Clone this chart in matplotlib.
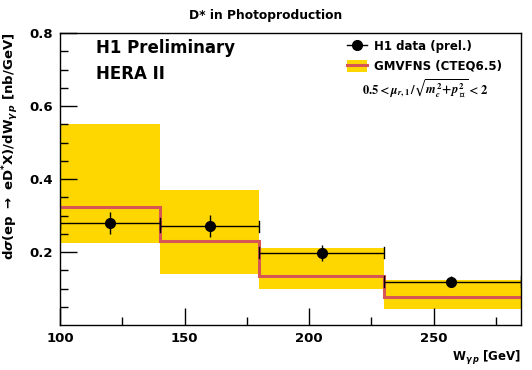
import numpy as np
import matplotlib
matplotlib.use('Agg')
import matplotlib.pyplot as plt
from matplotlib.lines import Line2D
from matplotlib.patches import Patch

# bins in W_gamma_p [GeV]
bin_edges = [100, 140, 180, 230, 285]
data_x = [120, 160, 205, 257]
data_y = [0.279, 0.271, 0.198, 0.119]
data_err = [0.030, 0.030, 0.022, 0.014]
theo_y = [0.3225, 0.231, 0.133, 0.076]
theo_lo = [0.224, 0.141, 0.098, 0.043]
theo_hi = [0.551, 0.370, 0.210, 0.123]

yellow = '#FFD700'
red = '#D65656'

plt.rcParams['font.family'] = ['DejaVu Sans']
plt.rcParams['font.weight'] = 'bold'

fig = plt.figure(figsize=(5.32, 3.70), dpi=100)
ax = fig.add_axes([0.1128, 0.1216, 0.8665, 0.7892])

edges = np.array(bin_edges)
for i in range(len(theo_y)):
    ax.fill_between([edges[i], edges[i + 1]], theo_lo[i], theo_hi[i],
                    color=yellow, lw=0, zorder=1)
ax.stairs(theo_y, edges, color=red, lw=2.2, baseline=None, zorder=2)

xerr_lo = np.array(data_x) - edges[:-1]
xerr_hi = edges[1:] - np.array(data_x)
ax.errorbar(data_x, data_y, yerr=data_err, xerr=[xerr_lo, xerr_hi],
            fmt='o', color='black', ms=7, lw=1, capsize=0, zorder=3)
# small end ticks at bin edges
for i in range(len(data_x)):
    for xe in (edges[i], edges[i + 1]):
        ax.plot([xe, xe], [data_y[i] - 0.015, data_y[i] + 0.015],
                color='black', lw=1, zorder=3)

ax.set_xlim(100, 285)
ax.set_ylim(0.0, 0.8)
ax.set_xticks([100, 150, 200, 250])
ax.set_xticks([125, 175, 225, 275], minor=True)
ax.set_yticks([0.2, 0.4, 0.6, 0.8])
ax.set_yticks(np.arange(0.05, 0.8, 0.05), minor=True)
ax.tick_params(direction='in', which='major', length=12, width=1, labelsize=9.5, pad=5)
ax.tick_params(direction='in', which='minor', length=6, width=1)
ax.tick_params(axis='x', which='both', top=False)
ax.tick_params(axis='y', which='both', right=False)
for lab in ax.get_xticklabels() + ax.get_yticklabels():
    lab.set_fontweight('bold')
for s in ax.spines.values():
    s.set_linewidth(1)

ax.set_xlabel(r'W$_{\gamma\,p}$ [GeV]', fontsize=8.5, fontweight='bold',
              loc='right', labelpad=3)
ax.set_ylabel(r'd$\sigma$(ep $\rightarrow$ eD$^{*}$X)/dW$_{\gamma\,p}$ [nb/GeV]',
              fontsize=9.5, fontweight='bold', loc='top', labelpad=6)

fig.text(0.5, 0.958, 'D* in Photoproduction', ha='center', va='center',
         fontsize=8.8, fontweight='bold')

ax.text(0.078, 0.95, 'H1 Preliminary', transform=ax.transAxes, fontsize=12,
        fontweight='bold', va='center')
ax.text(0.078, 0.86, 'HERA II', transform=ax.transAxes, fontsize=12,
        fontweight='bold', va='center')

handles = [
    Line2D([], [], color='black', marker='o', ms=7, lw=1),
    (Patch(facecolor=yellow, edgecolor='none'), Line2D([], [], color=red, lw=2.2)),
]
leg = ax.legend(handles, ['H1 data (prel.)', 'GMVFNS (CTEQ6.5)'],
                loc='upper left', bbox_to_anchor=(0.6, 1.012), frameon=False,
                prop={'weight': 'bold', 'size': 8.5}, handlelength=1.7,
                handleheight=1.2, handletextpad=0.55, labelspacing=0.55)
ax.text(0.655, 0.81, r'$0.5 < \mu_{r,1}\,/\sqrt{m_c^2\!+\!p_\perp^2} < 2$',
        transform=ax.transAxes, fontsize=9, va='center',
        math_fontfamily='stix')

fig.savefig('out.png', dpi=100)
